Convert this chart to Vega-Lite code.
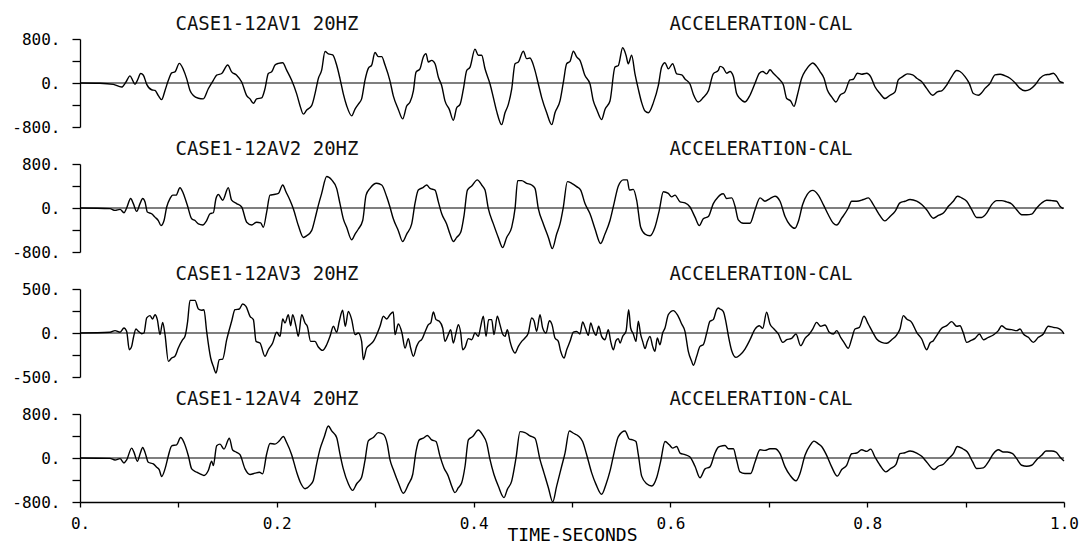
{
"$schema": "https://vega.github.io/schema/vega-lite/v6.json",
"background": "white",
"padding": {"left": 5, "top": 14, "right": 5, "bottom": 0},
"spacing": 37,
"bounds": "flush",
"datasets": {
"av1": [
{"t":0,"v":0},{"t":0.0203,"v":-5},{"t":0.0339,"v":-25},{"t":0.0423,"v":-74},{"t":0.0467,"v":18},{"t":0.0508,"v":129},{"t":0.0535,"v":49},{"t":0.0559,"v":-25},{"t":0.0583,"v":49},{"t":0.0617,"v":172},{"t":0.0644,"v":142},{"t":0.0678,"v":-25},{"t":0.0728,"v":-123},{"t":0.0762,"v":-135},{"t":0.0796,"v":-228},{"t":0.083,"v":-302},{"t":0.0864,"v":-135},{"t":0.0898,"v":49},{"t":0.0932,"v":185},{"t":0.0965,"v":203},{"t":0.1009,"v":357},{"t":0.105,"v":246},{"t":0.1084,"v":80},{"t":0.1118,"v":-135},{"t":0.1152,"v":-228},{"t":0.1203,"v":-277},{"t":0.1253,"v":-289},{"t":0.1304,"v":-105},{"t":0.1355,"v":49},{"t":0.1389,"v":142},{"t":0.144,"v":172},{"t":0.1501,"v":326},{"t":0.1541,"v":203},{"t":0.1592,"v":142},{"t":0.1643,"v":18},{"t":0.1694,"v":-228},{"t":0.1728,"v":-289},{"t":0.1762,"v":-369},{"t":0.1795,"v":-289},{"t":0.1846,"v":-271},{"t":0.188,"v":-105},{"t":0.1914,"v":172},{"t":0.1948,"v":203},{"t":0.1982,"v":326},{"t":0.2016,"v":357},{"t":0.206,"v":369},{"t":0.21,"v":234},{"t":0.2151,"v":49},{"t":0.2202,"v":-197},{"t":0.2236,"v":-412},{"t":0.227,"v":-566},{"t":0.2304,"v":-492},{"t":0.2354,"v":-412},{"t":0.2388,"v":-197},{"t":0.2422,"v":80},{"t":0.2456,"v":234},{"t":0.249,"v":572},{"t":0.2524,"v":529},{"t":0.2568,"v":511},{"t":0.2608,"v":326},{"t":0.2642,"v":80},{"t":0.2676,"v":-197},{"t":0.271,"v":-412},{"t":0.2761,"v":-597},{"t":0.2795,"v":-474},{"t":0.2829,"v":-382},{"t":0.2862,"v":-289},{"t":0.2896,"v":49},{"t":0.293,"v":265},{"t":0.2964,"v":326},{"t":0.2998,"v":554},{"t":0.3032,"v":480},{"t":0.3066,"v":480},{"t":0.31,"v":326},{"t":0.315,"v":40},
{"t":0.3184,"v":-234},{"t":0.3235,"v":-480},{"t":0.3279,"v":-652},{"t":0.332,"v":-418},{"t":0.3354,"v":-345},{"t":0.3388,"v":-142},{"t":0.3415,"v":197},{"t":0.3455,"v":258},{"t":0.3489,"v":474},{"t":0.3516,"v":535},{"t":0.354,"v":382},{"t":0.3574,"v":412},{"t":0.3608,"v":351},{"t":0.3642,"v":105},{"t":0.3676,"v":-49},{"t":0.3709,"v":-326},{"t":0.3753,"v":-480},{"t":0.3794,"v":-677},{"t":0.3828,"v":-449},{"t":0.3862,"v":-388},{"t":0.3896,"v":-111},{"t":0.393,"v":228},{"t":0.3964,"v":289},{"t":0.4014,"v":615},{"t":0.4048,"v":505},{"t":0.4082,"v":505},{"t":0.4116,"v":258},{"t":0.4167,"v":-18},{"t":0.4201,"v":-265},{"t":0.4234,"v":-511},{"t":0.4285,"v":-757},{"t":0.4319,"v":-542},{"t":0.4353,"v":-388},{"t":0.4387,"v":-111},{"t":0.4421,"v":351},{"t":0.4455,"v":382},{"t":0.4505,"v":578},{"t":0.4539,"v":443},{"t":0.4573,"v":455},{"t":0.4614,"v":289},{"t":0.4658,"v":-18},{"t":0.4692,"v":-265},{"t":0.4743,"v":-542},{"t":0.4794,"v":-757},{"t":0.4827,"v":-542},{"t":0.4878,"v":-326},{"t":0.4912,"v":12},{"t":0.4946,"v":351},{"t":0.498,"v":394},{"t":0.5014,"v":578},{"t":0.5047,"v":474},{"t":0.5081,"v":412},{"t":0.5132,"v":135},{"t":0.5183,"v":-18},{"t":0.5217,"v":-326},{"t":0.5251,"v":-480},{"t":0.5301,"v":-665},{"t":0.5335,"v":-480},{"t":0.5386,"v":-326},{"t":0.5437,"v":289},{"t":0.5471,"v":320},{"t":0.5515,"v":640},{"t":0.5549,"v":505},{"t":0.5572,"v":351},{"t":0.5606,"v":505},{"t":0.564,"v":166},{"t":0.5674,"v":-111},{"t":0.5708,"v":-357},{"t":0.5742,"v":-511},{"t":0.5776,"v":-542},{"t":0.5827,"v":-357},{"t":0.5877,"v":-49},{"t":0.5911,"v":289},{"t":0.5945,"v":369},{"t":0.5979,"v":258},{"t":0.6023,"v":351},{"t":0.6064,"v":166},{"t":0.6115,"v":148},{"t":0.6148,"v":74},{"t":0.6199,"v":-18},{"t":0.6233,"v":-203},{"t":0.6284,"v":-345},{"t":0.6334,"v":-265},{"t":0.6386,"v":-142},{"t":0.6436,"v":166},{"t":0.6487,"v":228},
{"t":0.6504,"v":302},{"t":0.6538,"v":271},{"t":0.6572,"v":178},{"t":0.6606,"v":209},{"t":0.664,"v":117},{"t":0.6673,"v":-191},{"t":0.6707,"v":-283},{"t":0.6758,"v":-345},{"t":0.6809,"v":-222},{"t":0.686,"v":-6},{"t":0.6904,"v":178},{"t":0.6938,"v":209},{"t":0.6978,"v":166},{"t":0.7012,"v":240},{"t":0.7046,"v":178},{"t":0.7097,"v":86},{"t":0.7148,"v":-37},{"t":0.7182,"v":-283},{"t":0.7222,"v":-326},{"t":0.7256,"v":-425},{"t":0.729,"v":-222},{"t":0.7334,"v":86},{"t":0.7378,"v":240},{"t":0.7419,"v":332},{"t":0.7446,"v":363},{"t":0.7486,"v":302},{"t":0.752,"v":209},{"t":0.7561,"v":86},{"t":0.7595,"v":-129},{"t":0.7639,"v":-252},{"t":0.7683,"v":-345},{"t":0.7724,"v":-222},{"t":0.7774,"v":-160},{"t":0.7825,"v":55},{"t":0.7859,"v":68},{"t":0.79,"v":178},{"t":0.7944,"v":160},{"t":0.7995,"v":178},{"t":0.8035,"v":117},{"t":0.8079,"v":-68},{"t":0.813,"v":-191},{"t":0.8181,"v":-283},{"t":0.8232,"v":-222},{"t":0.8283,"v":-160},{"t":0.8316,"v":55},{"t":0.8361,"v":117},{"t":0.8408,"v":166},{"t":0.8462,"v":148},{"t":0.8503,"v":86},{"t":0.8554,"v":25},{"t":0.8604,"v":-98},{"t":0.8665,"v":-222},{"t":0.8713,"v":-160},{"t":0.8757,"v":-142},{"t":0.8808,"v":-37},{"t":0.8859,"v":117},{"t":0.8909,"v":228},{"t":0.8943,"v":209},{"t":0.8994,"v":117},{"t":0.9038,"v":-6},{"t":0.9079,"v":-191},{"t":0.913,"v":-222},{"t":0.9163,"v":-178},{"t":0.9197,"v":-98},{"t":0.9248,"v":-6},{"t":0.9299,"v":148},{"t":0.935,"v":160},{"t":0.9397,"v":135},{"t":0.9451,"v":86},{"t":0.9502,"v":6},{"t":0.9553,"v":-98},{"t":0.9604,"v":-142},{"t":0.9654,"v":-117},{"t":0.9705,"v":-37},{"t":0.9756,"v":86},{"t":0.9807,"v":148},{"t":0.9858,"v":160},{"t":0.9892,"v":178},{"t":0.9926,"v":117},{"t":0.9959,"v":25},{"t":0.9993,"v":6}
],
"av2": [
{"t":0,"v":0},{"t":0.0305,"v":-12},{"t":0.0356,"v":-43},{"t":0.0407,"v":-25},{"t":0.0447,"v":-86},{"t":0.0474,"v":0},{"t":0.0515,"v":172},{"t":0.0542,"v":80},{"t":0.0576,"v":-62},{"t":0.061,"v":80},{"t":0.0637,"v":172},{"t":0.0661,"v":111},{"t":0.0684,"v":-74},{"t":0.0728,"v":-105},{"t":0.0762,"v":-166},{"t":0.0796,"v":-228},{"t":0.0823,"v":-320},{"t":0.0854,"v":-228},{"t":0.0881,"v":18},{"t":0.0915,"v":172},{"t":0.0942,"v":234},{"t":0.0976,"v":234},{"t":0.1016,"v":369},{"t":0.105,"v":265},{"t":0.1091,"v":49},{"t":0.1135,"v":-197},{"t":0.1169,"v":-228},{"t":0.1203,"v":-289},{"t":0.1247,"v":-308},{"t":0.1287,"v":-228},{"t":0.1321,"v":-105},{"t":0.1355,"v":-86},{"t":0.1382,"v":172},{"t":0.1406,"v":246},{"t":0.145,"v":142},{"t":0.1507,"v":369},{"t":0.1541,"v":142},{"t":0.1592,"v":80},{"t":0.1643,"v":18},{"t":0.1694,"v":-258},{"t":0.1745,"v":-308},{"t":0.1795,"v":-258},{"t":0.1836,"v":-271},{"t":0.1863,"v":-351},{"t":0.1897,"v":-74},{"t":0.1931,"v":234},{"t":0.1972,"v":246},{"t":0.2016,"v":265},{"t":0.206,"v":418},{"t":0.2093,"v":295},{"t":0.2134,"v":142},{"t":0.2168,"v":-12},{"t":0.2219,"v":-320},{"t":0.227,"v":-535},{"t":0.2304,"v":-505},{"t":0.2354,"v":-412},{"t":0.2388,"v":-197},{"t":0.2422,"v":49},{"t":0.2456,"v":265},{"t":0.2507,"v":572},{"t":0.2558,"v":511},{"t":0.2608,"v":357},{"t":0.2642,"v":80},{"t":0.2676,"v":-197},{"t":0.271,"v":-351},{"t":0.2761,"v":-578},{"t":0.2795,"v":-474},{"t":0.2829,"v":-382},{"t":0.2873,"v":-228},{"t":0.2907,"v":234},{"t":0.2947,"v":357},{"t":0.3015,"v":449},{"t":0.3066,"v":418},{"t":0.3117,"v":203},{"t":0.315,"v":18},
{"t":0.3184,"v":-197},{"t":0.3235,"v":-412},{"t":0.3279,"v":-609},{"t":0.332,"v":-474},{"t":0.3371,"v":-289},{"t":0.3404,"v":80},{"t":0.3438,"v":326},{"t":0.3489,"v":375},{"t":0.3523,"v":418},{"t":0.3557,"v":357},{"t":0.3608,"v":326},{"t":0.3642,"v":111},{"t":0.3676,"v":-105},{"t":0.3726,"v":-289},{"t":0.376,"v":-474},{"t":0.3794,"v":-609},{"t":0.3828,"v":-535},{"t":0.3869,"v":-443},{"t":0.3903,"v":-135},{"t":0.3937,"v":326},{"t":0.3981,"v":400},{"t":0.4038,"v":511},{"t":0.4082,"v":418},{"t":0.4116,"v":326},{"t":0.415,"v":-12},{"t":0.4201,"v":-289},{"t":0.4251,"v":-535},{"t":0.4295,"v":-720},{"t":0.4336,"v":-535},{"t":0.4387,"v":-351},{"t":0.4421,"v":-12},{"t":0.4448,"v":498},{"t":0.4489,"v":498},{"t":0.4539,"v":449},{"t":0.459,"v":418},{"t":0.4624,"v":357},{"t":0.4658,"v":-12},{"t":0.4709,"v":-289},{"t":0.476,"v":-535},{"t":0.48,"v":-738},{"t":0.4844,"v":-474},{"t":0.4878,"v":-289},{"t":0.4912,"v":18},{"t":0.4953,"v":480},{"t":0.4997,"v":449},{"t":0.5047,"v":388},{"t":0.5088,"v":326},{"t":0.5132,"v":80},{"t":0.5183,"v":-105},{"t":0.5234,"v":-382},{"t":0.5291,"v":-646},{"t":0.5335,"v":-474},{"t":0.5386,"v":-228},{"t":0.5427,"v":80},{"t":0.5471,"v":400},{"t":0.5522,"v":511},{"t":0.5562,"v":511},{"t":0.5583,"v":326},{"t":0.5623,"v":338},{"t":0.5657,"v":142},{"t":0.5698,"v":-351},{"t":0.5742,"v":-474},{"t":0.5793,"v":-505},{"t":0.5843,"v":-351},{"t":0.5887,"v":-43},{"t":0.5928,"v":295},{"t":0.5979,"v":265},{"t":0.6012,"v":203},{"t":0.6047,"v":234},{"t":0.6098,"v":111},{"t":0.6148,"v":92},{"t":0.6199,"v":18},{"t":0.625,"v":-166},{"t":0.6294,"v":-320},{"t":0.6334,"v":-197},{"t":0.6386,"v":-154},{"t":0.6436,"v":80},{"t":0.6487,"v":203},
{"t":0.6504,"v":234},{"t":0.6538,"v":258},{"t":0.6572,"v":172},{"t":0.6623,"v":185},{"t":0.6657,"v":31},{"t":0.669,"v":-215},{"t":0.6741,"v":-277},{"t":0.6809,"v":-277},{"t":0.686,"v":-31},{"t":0.6911,"v":185},{"t":0.6961,"v":123},{"t":0.7012,"v":172},{"t":0.7063,"v":215},{"t":0.7114,"v":123},{"t":0.7165,"v":-154},{"t":0.7215,"v":-308},{"t":0.7266,"v":-369},{"t":0.73,"v":-246},{"t":0.7344,"v":62},{"t":0.7391,"v":246},{"t":0.7446,"v":320},{"t":0.7503,"v":234},{"t":0.7554,"v":62},{"t":0.7605,"v":-123},{"t":0.7656,"v":-277},{"t":0.769,"v":-308},{"t":0.7741,"v":-185},{"t":0.7808,"v":0},{"t":0.7842,"v":123},{"t":0.7893,"v":123},{"t":0.7961,"v":154},{"t":0.8011,"v":185},{"t":0.8062,"v":62},{"t":0.8113,"v":-92},{"t":0.8181,"v":-234},{"t":0.8232,"v":-154},{"t":0.8283,"v":-62},{"t":0.8333,"v":92},{"t":0.8384,"v":123},{"t":0.8435,"v":154},{"t":0.8503,"v":123},{"t":0.8554,"v":62},{"t":0.8604,"v":-31},{"t":0.8672,"v":-185},{"t":0.8723,"v":-135},{"t":0.8774,"v":-92},{"t":0.8825,"v":31},{"t":0.8875,"v":123},{"t":0.8916,"v":215},{"t":0.896,"v":185},{"t":0.9011,"v":123},{"t":0.9062,"v":-31},{"t":0.9112,"v":-172},{"t":0.9163,"v":-172},{"t":0.9214,"v":-92},{"t":0.9265,"v":62},{"t":0.9316,"v":135},{"t":0.9367,"v":135},{"t":0.9417,"v":111},{"t":0.9468,"v":74},{"t":0.9519,"v":-31},{"t":0.957,"v":-123},{"t":0.9621,"v":-123},{"t":0.9671,"v":-111},{"t":0.9722,"v":0},{"t":0.9773,"v":92},{"t":0.9824,"v":142},{"t":0.9875,"v":135},{"t":0.9926,"v":123},{"t":0.9959,"v":31},{"t":0.9993,"v":-12}
],
"av3": [
{"t":0,"v":0},{"t":0.0305,"v":8},{"t":0.0356,"v":27},{"t":0.0407,"v":8},{"t":0.0447,"v":57},{"t":0.0474,"v":19},{"t":0.0501,"v":-190},{"t":0.0525,"v":-152},{"t":0.0542,"v":-57},{"t":0.0569,"v":45},{"t":0.0593,"v":19},{"t":0.0627,"v":-8},{"t":0.065,"v":0},{"t":0.0678,"v":171},{"t":0.0711,"v":197},{"t":0.0738,"v":159},{"t":0.0762,"v":208},{"t":0.0786,"v":152},{"t":0.0813,"v":-19},{"t":0.084,"v":121},{"t":0.0864,"v":-19},{"t":0.0898,"v":-322},{"t":0.0932,"v":-284},{"t":0.0965,"v":-265},{"t":0.0999,"v":-171},{"t":0.1043,"v":-76},{"t":0.1067,"v":-38},{"t":0.1094,"v":133},{"t":0.1118,"v":371},{"t":0.1169,"v":371},{"t":0.1203,"v":273},{"t":0.1236,"v":258},{"t":0.126,"v":265},{"t":0.1287,"v":19},{"t":0.1328,"v":-284},{"t":0.1355,"v":-379},{"t":0.1382,"v":-455},{"t":0.1416,"v":-303},{"t":0.145,"v":-296},{"t":0.1491,"v":-76},{"t":0.1541,"v":133},{"t":0.1575,"v":265},{"t":0.1619,"v":273},{"t":0.1653,"v":330},{"t":0.1687,"v":303},{"t":0.1728,"v":190},{"t":0.1762,"v":152},{"t":0.1789,"v":-95},{"t":0.1829,"v":-114},{"t":0.188,"v":-265},{"t":0.1914,"v":-190},{"t":0.1958,"v":-114},{"t":0.1999,"v":8},{"t":0.2033,"v":-38},{"t":0.206,"v":159},{"t":0.2083,"v":114},{"t":0.2117,"v":208},{"t":0.2141,"v":83},{"t":0.2161,"v":208},{"t":0.2195,"v":76},{"t":0.2219,"v":-38},{"t":0.2253,"v":208},{"t":0.2287,"v":114},{"t":0.231,"v":76},{"t":0.2344,"v":-95},{"t":0.2388,"v":-95},{"t":0.2422,"v":-159},{"t":0.2466,"v":-197},{"t":0.2507,"v":-133},{"t":0.2541,"v":-38},{"t":0.2575,"v":76},{"t":0.2608,"v":8},{"t":0.2635,"v":133},{"t":0.2669,"v":258},{"t":0.2696,"v":76},{"t":0.2727,"v":246},{"t":0.2761,"v":152},{"t":0.2795,"v":-19},{"t":0.2829,"v":0},{"t":0.2862,"v":-95},{"t":0.2879,"v":-303},{"t":0.2913,"v":-171},{"t":0.2947,"v":-133},{"t":0.2981,"v":-95},{"t":0.3015,"v":-19},{"t":0.3049,"v":76},{"t":0.3083,"v":190},{"t":0.3117,"v":159},
{"t":0.315,"v":208},{"t":0.3184,"v":239},{"t":0.3201,"v":-19},{"t":0.3235,"v":102},{"t":0.3272,"v":0},{"t":0.3303,"v":-171},{"t":0.3337,"v":-64},{"t":0.336,"v":-171},{"t":0.3388,"v":-265},{"t":0.3421,"v":-152},{"t":0.3448,"v":-95},{"t":0.3472,"v":-76},{"t":0.3506,"v":11},{"t":0.354,"v":95},{"t":0.3564,"v":114},{"t":0.3591,"v":239},{"t":0.3618,"v":152},{"t":0.3652,"v":133},{"t":0.3686,"v":57},{"t":0.3709,"v":-95},{"t":0.3743,"v":-19},{"t":0.3767,"v":38},{"t":0.3794,"v":-114},{"t":0.3821,"v":0},{"t":0.3845,"v":95},{"t":0.3869,"v":0},{"t":0.3889,"v":-190},{"t":0.3913,"v":-163},{"t":0.3947,"v":-64},{"t":0.3981,"v":-76},{"t":0.4014,"v":0},{"t":0.4048,"v":-38},{"t":0.4072,"v":76},{"t":0.4099,"v":190},{"t":0.4126,"v":-38},{"t":0.4153,"v":152},{"t":0.4184,"v":152},{"t":0.4207,"v":-19},{"t":0.4241,"v":190},{"t":0.4268,"v":95},{"t":0.4295,"v":-11},{"t":0.4319,"v":-38},{"t":0.4343,"v":38},{"t":0.437,"v":-95},{"t":0.4397,"v":-190},{"t":0.4421,"v":-227},{"t":0.4455,"v":-152},{"t":0.4489,"v":-95},{"t":0.4522,"v":-57},{"t":0.4556,"v":0},{"t":0.459,"v":171},{"t":0.4614,"v":140},{"t":0.4641,"v":19},{"t":0.4675,"v":208},{"t":0.4702,"v":57},{"t":0.4736,"v":0},{"t":0.477,"v":140},{"t":0.4797,"v":95},{"t":0.4827,"v":-57},{"t":0.4861,"v":-95},{"t":0.4885,"v":-208},{"t":0.4919,"v":-284},{"t":0.4946,"v":-190},{"t":0.498,"v":-95},{"t":0.5014,"v":11},{"t":0.5047,"v":19},{"t":0.5081,"v":-11},{"t":0.5108,"v":125},{"t":0.5135,"v":57},{"t":0.5166,"v":-27},{"t":0.519,"v":114},{"t":0.5217,"v":27},{"t":0.5244,"v":-27},{"t":0.5271,"v":76},{"t":0.5301,"v":-38},{"t":0.5335,"v":-76},{"t":0.5369,"v":38},{"t":0.5393,"v":-95},{"t":0.542,"v":-190},{"t":0.5447,"v":-87},{"t":0.5471,"v":-64},{"t":0.5488,"v":-114},{"t":0.5515,"v":-38},{"t":0.5549,"v":19},{"t":0.5576,"v":265},{"t":0.5596,"v":57},{"t":0.5623,"v":-11},{"t":0.565,"v":-95},{"t":0.5674,"v":133},{"t":0.5698,"v":-19},{"t":0.5718,"v":-95},{"t":0.5742,"v":-178},{"t":0.5766,"v":-95},{"t":0.5793,"v":-38},{"t":0.582,"v":-152},{"t":0.5843,"v":-208},{"t":0.5867,"v":-57},{"t":0.5894,"v":-133},{"t":0.5921,"v":0},{"t":0.5945,"v":57},{"t":0.5979,"v":208},{"t":0.603,"v":254},{"t":0.607,"v":208},{"t":0.6115,"v":102},{"t":0.6148,"v":19},{"t":0.6182,"v":-208},{"t":0.6216,"v":-322},{"t":0.6233,"v":-368},{"t":0.6267,"v":-265},{"t":0.6301,"v":-152},{"t":0.6334,"v":-133},{"t":0.6369,"v":0},{"t":0.6402,"v":133},{"t":0.6436,"v":152},{"t":0.647,"v":265},{"t":0.6487,"v":284},
{"t":0.6504,"v":273},{"t":0.6538,"v":243},{"t":0.6565,"v":121},{"t":0.6589,"v":-30},{"t":0.6623,"v":-201},{"t":0.6667,"v":-277},{"t":0.6707,"v":-250},{"t":0.6758,"v":-182},{"t":0.6809,"v":-76},{"t":0.686,"v":45},{"t":0.6904,"v":83},{"t":0.6938,"v":53},{"t":0.6978,"v":235},{"t":0.7012,"v":102},{"t":0.7053,"v":45},{"t":0.7097,"v":-11},{"t":0.7141,"v":-106},{"t":0.7182,"v":-76},{"t":0.7232,"v":-61},{"t":0.7276,"v":-11},{"t":0.7324,"v":-144},{"t":0.7368,"v":-61},{"t":0.7412,"v":-11},{"t":0.7446,"v":45},{"t":0.7486,"v":121},{"t":0.7527,"v":76},{"t":0.7571,"v":91},{"t":0.7615,"v":8},{"t":0.7656,"v":-11},{"t":0.769,"v":27},{"t":0.773,"v":-49},{"t":0.7764,"v":-106},{"t":0.7808,"v":-174},{"t":0.7842,"v":-68},{"t":0.7876,"v":45},{"t":0.792,"v":64},{"t":0.7967,"v":190},{"t":0.8011,"v":102},{"t":0.8056,"v":8},{"t":0.8096,"v":-68},{"t":0.8147,"v":-106},{"t":0.8198,"v":-117},{"t":0.8249,"v":-76},{"t":0.8299,"v":-23},{"t":0.8333,"v":45},{"t":0.8367,"v":197},{"t":0.8401,"v":159},{"t":0.8452,"v":121},{"t":0.8503,"v":8},{"t":0.8554,"v":-68},{"t":0.8604,"v":-190},{"t":0.8638,"v":-114},{"t":0.8672,"v":-87},{"t":0.8706,"v":-30},{"t":0.8757,"v":53},{"t":0.8808,"v":83},{"t":0.8859,"v":129},{"t":0.8909,"v":76},{"t":0.8943,"v":83},{"t":0.8977,"v":0},{"t":0.9011,"v":-106},{"t":0.9051,"v":-87},{"t":0.9096,"v":-61},{"t":0.914,"v":-11},{"t":0.918,"v":-76},{"t":0.9231,"v":-49},{"t":0.9282,"v":-23},{"t":0.9333,"v":27},{"t":0.9367,"v":83},{"t":0.9417,"v":45},{"t":0.9468,"v":38},{"t":0.9519,"v":27},{"t":0.9553,"v":45},{"t":0.9587,"v":-11},{"t":0.9638,"v":-49},{"t":0.9688,"v":-106},{"t":0.9739,"v":-49},{"t":0.979,"v":-11},{"t":0.984,"v":76},{"t":0.9892,"v":64},{"t":0.9943,"v":53},{"t":0.9977,"v":27},{"t":1.0,"v":-11}
],
"av4": [
{"t":0,"v":0},{"t":0.0305,"v":-6},{"t":0.0356,"v":-36},{"t":0.0407,"v":-12},{"t":0.0447,"v":-90},{"t":0.0474,"v":-36},{"t":0.0525,"v":180},{"t":0.0549,"v":102},{"t":0.0583,"v":-60},{"t":0.061,"v":72},{"t":0.0637,"v":192},{"t":0.0661,"v":102},{"t":0.0694,"v":-78},{"t":0.0745,"v":-108},{"t":0.0779,"v":-168},{"t":0.0806,"v":-216},{"t":0.083,"v":-336},{"t":0.0864,"v":-198},{"t":0.0898,"v":42},{"t":0.0932,"v":222},{"t":0.0982,"v":240},{"t":0.1023,"v":372},{"t":0.1057,"v":282},{"t":0.1101,"v":42},{"t":0.1135,"v":-198},{"t":0.1186,"v":-258},{"t":0.122,"v":-288},{"t":0.126,"v":-318},{"t":0.1304,"v":-228},{"t":0.1338,"v":-60},{"t":0.1355,"v":-138},{"t":0.1389,"v":222},{"t":0.1423,"v":252},{"t":0.1463,"v":162},{"t":0.1518,"v":360},{"t":0.1551,"v":144},{"t":0.1592,"v":102},{"t":0.1626,"v":60},{"t":0.1677,"v":-198},{"t":0.1728,"v":-300},{"t":0.1778,"v":-276},{"t":0.1823,"v":-258},{"t":0.1856,"v":-288},{"t":0.1897,"v":72},{"t":0.1931,"v":264},{"t":0.1982,"v":252},{"t":0.2026,"v":312},{"t":0.2066,"v":390},{"t":0.21,"v":282},{"t":0.2151,"v":60},{"t":0.2202,"v":-258},{"t":0.2246,"v":-468},{"t":0.2287,"v":-558},{"t":0.2337,"v":-498},{"t":0.2371,"v":-408},{"t":0.2405,"v":-108},{"t":0.2439,"v":162},{"t":0.248,"v":372},{"t":0.2524,"v":582},{"t":0.2558,"v":492},{"t":0.2608,"v":372},{"t":0.2642,"v":72},{"t":0.2676,"v":-198},{"t":0.2727,"v":-468},{"t":0.2771,"v":-588},{"t":0.2812,"v":-468},{"t":0.2862,"v":-348},{"t":0.2896,"v":-48},{"t":0.293,"v":312},{"t":0.2981,"v":372},{"t":0.3032,"v":462},{"t":0.3083,"v":432},{"t":0.3123,"v":252},
{"t":0.315,"v":-30},{"t":0.3184,"v":-210},{"t":0.3235,"v":-450},{"t":0.3286,"v":-642},{"t":0.3337,"v":-480},{"t":0.3381,"v":-300},{"t":0.3415,"v":120},{"t":0.3448,"v":330},{"t":0.3489,"v":360},{"t":0.353,"v":408},{"t":0.3574,"v":330},{"t":0.3618,"v":300},{"t":0.3659,"v":30},{"t":0.3699,"v":-180},{"t":0.3743,"v":-330},{"t":0.3777,"v":-510},{"t":0.3811,"v":-630},{"t":0.3845,"v":-540},{"t":0.3879,"v":-450},{"t":0.3913,"v":-150},{"t":0.3947,"v":330},{"t":0.3991,"v":390},{"t":0.4048,"v":510},{"t":0.4092,"v":420},{"t":0.4133,"v":270},{"t":0.4167,"v":-30},{"t":0.4207,"v":-300},{"t":0.4251,"v":-510},{"t":0.4309,"v":-720},{"t":0.4343,"v":-570},{"t":0.4387,"v":-420},{"t":0.4431,"v":0},{"t":0.4472,"v":480},{"t":0.4522,"v":462},{"t":0.4573,"v":402},{"t":0.4624,"v":360},{"t":0.4675,"v":-30},{"t":0.4715,"v":-270},{"t":0.476,"v":-540},{"t":0.4804,"v":-798},{"t":0.4844,"v":-510},{"t":0.4895,"v":-150},{"t":0.4929,"v":90},{"t":0.4973,"v":492},{"t":0.5014,"v":450},{"t":0.5064,"v":402},{"t":0.5108,"v":300},{"t":0.5149,"v":60},{"t":0.52,"v":-270},{"t":0.5244,"v":-480},{"t":0.5301,"v":-660},{"t":0.5345,"v":-480},{"t":0.5386,"v":-240},{"t":0.5427,"v":90},{"t":0.5471,"v":390},{"t":0.5539,"v":492},{"t":0.5583,"v":342},{"t":0.5617,"v":330},{"t":0.565,"v":300},{"t":0.5674,"v":60},{"t":0.5708,"v":-330},{"t":0.5759,"v":-468},{"t":0.581,"v":-510},{"t":0.586,"v":-360},{"t":0.5901,"v":-60},{"t":0.5945,"v":300},{"t":0.5989,"v":240},{"t":0.6023,"v":180},{"t":0.6064,"v":210},{"t":0.6098,"v":90},{"t":0.6148,"v":60},{"t":0.6199,"v":18},{"t":0.625,"v":-150},{"t":0.6301,"v":-360},{"t":0.6352,"v":-198},{"t":0.6402,"v":-162},{"t":0.6453,"v":90},{"t":0.6487,"v":198},
{"t":0.6504,"v":210},{"t":0.6555,"v":228},{"t":0.6589,"v":168},{"t":0.664,"v":168},{"t":0.6673,"v":-42},{"t":0.6707,"v":-252},{"t":0.6758,"v":-282},{"t":0.6816,"v":-282},{"t":0.686,"v":-72},{"t":0.6911,"v":150},{"t":0.6961,"v":138},{"t":0.7012,"v":168},{"t":0.7063,"v":168},{"t":0.7114,"v":78},{"t":0.7165,"v":-162},{"t":0.7215,"v":-312},{"t":0.7276,"v":-414},{"t":0.7317,"v":-282},{"t":0.7368,"v":48},{"t":0.7419,"v":228},{"t":0.7459,"v":306},{"t":0.7503,"v":258},{"t":0.7537,"v":210},{"t":0.7588,"v":48},{"t":0.7639,"v":-162},{"t":0.7696,"v":-330},{"t":0.7741,"v":-210},{"t":0.7791,"v":-132},{"t":0.7842,"v":78},{"t":0.7893,"v":90},{"t":0.7944,"v":150},{"t":0.7995,"v":120},{"t":0.8035,"v":162},{"t":0.8079,"v":18},{"t":0.813,"v":-132},{"t":0.8191,"v":-252},{"t":0.8238,"v":-192},{"t":0.8293,"v":-114},{"t":0.8333,"v":78},{"t":0.8384,"v":96},{"t":0.8435,"v":126},{"t":0.8503,"v":90},{"t":0.8554,"v":30},{"t":0.8604,"v":-72},{"t":0.8679,"v":-210},{"t":0.8723,"v":-150},{"t":0.8774,"v":-114},{"t":0.8825,"v":-12},{"t":0.8875,"v":78},{"t":0.8916,"v":210},{"t":0.897,"v":168},{"t":0.9018,"v":108},{"t":0.9072,"v":-72},{"t":0.9112,"v":-192},{"t":0.918,"v":-180},{"t":0.9231,"v":-72},{"t":0.9282,"v":78},{"t":0.9333,"v":150},{"t":0.9383,"v":108},{"t":0.9424,"v":108},{"t":0.9478,"v":78},{"t":0.9519,"v":-12},{"t":0.957,"v":-132},{"t":0.9621,"v":-150},{"t":0.9671,"v":-132},{"t":0.9722,"v":-30},{"t":0.9773,"v":48},{"t":0.9817,"v":126},{"t":0.9875,"v":126},{"t":0.9919,"v":108},{"t":0.9959,"v":18},{"t":1.0,"v":-54}
]
},
"vconcat": [
{
"width": 984, "height": 88,
"layer": [
{"data": {"values": [{}]}, "mark": {"type": "rule", "color": "#000", "strokeWidth": 1.2}, "encoding": {"y": {"datum": 0, "type": "quantitative", "scale": {"domain": [-800, 800], "nice": false}, "axis": {"values": [-800, -400, 0, 400, 800], "labelExpr": "abs(datum.value) == 400 ? '' : datum.value + '.'", "title": null, "tickSize": 8, "labelPadding": 12, "minExtent": 75, "maxExtent": 75}}}},
{"data": {"name": "av1"}, "mark": {"type": "line", "color": "#000", "strokeWidth": 1.4, "interpolate": "monotone"},
 "encoding": {
  "x": {"field": "t", "type": "quantitative", "scale": {"domain": [0, 1], "nice": false}, "axis": null},
  "y": {"field": "v", "type": "quantitative", "scale": {"domain": [-800, 800], "nice": false}, "axis": {"values": [-800, -400, 0, 400, 800], "labelExpr": "abs(datum.value) == 400 ? '' : datum.value + '.'", "title": null, "tickSize": 8, "labelPadding": 12, "minExtent": 75, "maxExtent": 75}}}},
{"data": {"values": [{}]}, "mark": {"type": "text", "text": "CASE1-12AV1 20HZ", "font": "DejaVu Sans Mono", "fontSize": 19, "color": "#111", "align": "center", "baseline": "middle"},
 "encoding": {"x": {"datum": 0.19, "type": "quantitative", "scale": {"domain": [0, 1], "nice": false}, "axis": null}, "y": {"datum": 1080, "type": "quantitative", "scale": {"domain": [-800, 800], "nice": false}, "axis": {"values": [-800, -400, 0, 400, 800], "labelExpr": "abs(datum.value) == 400 ? '' : datum.value + '.'", "title": null, "tickSize": 8, "labelPadding": 12, "minExtent": 75, "maxExtent": 75}}}},
{"data": {"values": [{}]}, "mark": {"type": "text", "text": "ACCELERATION-CAL", "font": "DejaVu Sans Mono", "fontSize": 19, "color": "#111", "align": "center", "baseline": "middle"},
 "encoding": {"x": {"datum": 0.692, "type": "quantitative", "scale": {"domain": [0, 1], "nice": false}, "axis": null}, "y": {"datum": 1080, "type": "quantitative", "scale": {"domain": [-800, 800], "nice": false}, "axis": {"values": [-800, -400, 0, 400, 800], "labelExpr": "abs(datum.value) == 400 ? '' : datum.value + '.'", "title": null, "tickSize": 8, "labelPadding": 12, "minExtent": 75, "maxExtent": 75}}}}
]
},
{
"width": 984, "height": 88,
"layer": [
{"data": {"values": [{}]}, "mark": {"type": "rule", "color": "#000", "strokeWidth": 1.2}, "encoding": {"y": {"datum": 0, "type": "quantitative", "scale": {"domain": [-800, 800], "nice": false}, "axis": {"values": [-800, -400, 0, 400, 800], "labelExpr": "abs(datum.value) == 400 ? '' : datum.value + '.'", "title": null, "tickSize": 8, "labelPadding": 12, "minExtent": 75, "maxExtent": 75}}}},
{"data": {"name": "av2"}, "mark": {"type": "line", "color": "#000", "strokeWidth": 1.4, "interpolate": "monotone"},
 "encoding": {
  "x": {"field": "t", "type": "quantitative", "scale": {"domain": [0, 1], "nice": false}, "axis": null},
  "y": {"field": "v", "type": "quantitative", "scale": {"domain": [-800, 800], "nice": false}, "axis": {"values": [-800, -400, 0, 400, 800], "labelExpr": "abs(datum.value) == 400 ? '' : datum.value + '.'", "title": null, "tickSize": 8, "labelPadding": 12, "minExtent": 75, "maxExtent": 75}}}},
{"data": {"values": [{}]}, "mark": {"type": "text", "text": "CASE1-12AV2 20HZ", "font": "DejaVu Sans Mono", "fontSize": 19, "color": "#111", "align": "center", "baseline": "middle"},
 "encoding": {"x": {"datum": 0.19, "type": "quantitative", "scale": {"domain": [0, 1], "nice": false}, "axis": null}, "y": {"datum": 1080, "type": "quantitative", "scale": {"domain": [-800, 800], "nice": false}, "axis": {"values": [-800, -400, 0, 400, 800], "labelExpr": "abs(datum.value) == 400 ? '' : datum.value + '.'", "title": null, "tickSize": 8, "labelPadding": 12, "minExtent": 75, "maxExtent": 75}}}},
{"data": {"values": [{}]}, "mark": {"type": "text", "text": "ACCELERATION-CAL", "font": "DejaVu Sans Mono", "fontSize": 19, "color": "#111", "align": "center", "baseline": "middle"},
 "encoding": {"x": {"datum": 0.692, "type": "quantitative", "scale": {"domain": [0, 1], "nice": false}, "axis": null}, "y": {"datum": 1080, "type": "quantitative", "scale": {"domain": [-800, 800], "nice": false}, "axis": {"values": [-800, -400, 0, 400, 800], "labelExpr": "abs(datum.value) == 400 ? '' : datum.value + '.'", "title": null, "tickSize": 8, "labelPadding": 12, "minExtent": 75, "maxExtent": 75}}}}
]
},
{
"width": 984, "height": 88,
"layer": [
{"data": {"values": [{}]}, "mark": {"type": "rule", "color": "#000", "strokeWidth": 1.2}, "encoding": {"y": {"datum": 0, "type": "quantitative", "scale": {"domain": [-500, 500], "nice": false}, "axis": {"values": [-500, -250, 0, 250, 500], "labelExpr": "abs(datum.value) == 250 ? '' : datum.value + '.'", "title": null, "tickSize": 8, "labelPadding": 12, "minExtent": 75, "maxExtent": 75}}}},
{"data": {"name": "av3"}, "mark": {"type": "line", "color": "#000", "strokeWidth": 1.4, "interpolate": "monotone"},
 "encoding": {
  "x": {"field": "t", "type": "quantitative", "scale": {"domain": [0, 1], "nice": false}, "axis": null},
  "y": {"field": "v", "type": "quantitative", "scale": {"domain": [-500, 500], "nice": false}, "axis": {"values": [-500, -250, 0, 250, 500], "labelExpr": "abs(datum.value) == 250 ? '' : datum.value + '.'", "title": null, "tickSize": 8, "labelPadding": 12, "minExtent": 75, "maxExtent": 75}}}},
{"data": {"values": [{}]}, "mark": {"type": "text", "text": "CASE1-12AV3 20HZ", "font": "DejaVu Sans Mono", "fontSize": 19, "color": "#111", "align": "center", "baseline": "middle"},
 "encoding": {"x": {"datum": 0.19, "type": "quantitative", "scale": {"domain": [0, 1], "nice": false}, "axis": null}, "y": {"datum": 675, "type": "quantitative", "scale": {"domain": [-500, 500], "nice": false}, "axis": {"values": [-500, -250, 0, 250, 500], "labelExpr": "abs(datum.value) == 250 ? '' : datum.value + '.'", "title": null, "tickSize": 8, "labelPadding": 12, "minExtent": 75, "maxExtent": 75}}}},
{"data": {"values": [{}]}, "mark": {"type": "text", "text": "ACCELERATION-CAL", "font": "DejaVu Sans Mono", "fontSize": 19, "color": "#111", "align": "center", "baseline": "middle"},
 "encoding": {"x": {"datum": 0.692, "type": "quantitative", "scale": {"domain": [0, 1], "nice": false}, "axis": null}, "y": {"datum": 675, "type": "quantitative", "scale": {"domain": [-500, 500], "nice": false}, "axis": {"values": [-500, -250, 0, 250, 500], "labelExpr": "abs(datum.value) == 250 ? '' : datum.value + '.'", "title": null, "tickSize": 8, "labelPadding": 12, "minExtent": 75, "maxExtent": 75}}}}
]
},
{
"width": 984, "height": 88,
"layer": [
{"data": {"values": [{}]}, "mark": {"type": "rule", "color": "#000", "strokeWidth": 1.2}, "encoding": {"y": {"datum": 0, "type": "quantitative", "scale": {"domain": [-800, 800], "nice": false}, "axis": {"values": [-800, -400, 0, 400, 800], "labelExpr": "abs(datum.value) == 400 ? '' : datum.value + '.'", "title": null, "tickSize": 8, "labelPadding": 12, "minExtent": 75, "maxExtent": 75}}}},
{"data": {"name": "av4"}, "mark": {"type": "line", "color": "#000", "strokeWidth": 1.4, "interpolate": "monotone"},
 "encoding": {
  "x": {"field": "t", "type": "quantitative", "scale": {"domain": [0, 1], "nice": false}, "axis": {"values": [0, 0.1, 0.2, 0.3, 0.4, 0.5, 0.6, 0.7, 0.8, 0.9, 1.0], "labelExpr": "datum.value == 0 ? '0.' : (round(datum.value * 10) % 2 == 1 ? '' : format(datum.value, '.1f'))", "labelFlush": false, "tickSize": 5, "labelPadding": 8, "title": "TIME-SECONDS", "titlePadding": -5}},
  "y": {"field": "v", "type": "quantitative", "scale": {"domain": [-800, 800], "nice": false}, "axis": {"values": [-800, -400, 0, 400, 800], "labelExpr": "abs(datum.value) == 400 ? '' : datum.value + '.'", "title": null, "tickSize": 8, "labelPadding": 12, "minExtent": 75, "maxExtent": 75}}}},
{"data": {"values": [{}]}, "mark": {"type": "text", "text": "CASE1-12AV4 20HZ", "font": "DejaVu Sans Mono", "fontSize": 19, "color": "#111", "align": "center", "baseline": "middle"},
 "encoding": {"x": {"datum": 0.19, "type": "quantitative", "scale": {"domain": [0, 1], "nice": false}, "axis": {"values": [0, 0.1, 0.2, 0.3, 0.4, 0.5, 0.6, 0.7, 0.8, 0.9, 1.0], "labelExpr": "datum.value == 0 ? '0.' : (round(datum.value * 10) % 2 == 1 ? '' : format(datum.value, '.1f'))", "labelFlush": false, "tickSize": 5, "labelPadding": 8, "title": "TIME-SECONDS", "titlePadding": -5}}, "y": {"datum": 1080, "type": "quantitative", "scale": {"domain": [-800, 800], "nice": false}, "axis": {"values": [-800, -400, 0, 400, 800], "labelExpr": "abs(datum.value) == 400 ? '' : datum.value + '.'", "title": null, "tickSize": 8, "labelPadding": 12, "minExtent": 75, "maxExtent": 75}}}},
{"data": {"values": [{}]}, "mark": {"type": "text", "text": "ACCELERATION-CAL", "font": "DejaVu Sans Mono", "fontSize": 19, "color": "#111", "align": "center", "baseline": "middle"},
 "encoding": {"x": {"datum": 0.692, "type": "quantitative", "scale": {"domain": [0, 1], "nice": false}, "axis": {"values": [0, 0.1, 0.2, 0.3, 0.4, 0.5, 0.6, 0.7, 0.8, 0.9, 1.0], "labelExpr": "datum.value == 0 ? '0.' : (round(datum.value * 10) % 2 == 1 ? '' : format(datum.value, '.1f'))", "labelFlush": false, "tickSize": 5, "labelPadding": 8, "title": "TIME-SECONDS", "titlePadding": -5}}, "y": {"datum": 1080, "type": "quantitative", "scale": {"domain": [-800, 800], "nice": false}, "axis": {"values": [-800, -400, 0, 400, 800], "labelExpr": "abs(datum.value) == 400 ? '' : datum.value + '.'", "title": null, "tickSize": 8, "labelPadding": 12, "minExtent": 75, "maxExtent": 75}}}}
]
}
],
"config": {
"view": {"stroke": null},
"axis": {"grid": false, "domainColor": "#000", "tickColor": "#000", "labelColor": "#000", "titleColor": "#000", "labelFont": "DejaVu Sans Mono", "titleFont": "DejaVu Sans Mono", "labelFontSize": 16, "titleFontSize": 18, "titleFontWeight": "normal", "domainWidth": 1.3, "tickWidth": 1.3}
}
}
